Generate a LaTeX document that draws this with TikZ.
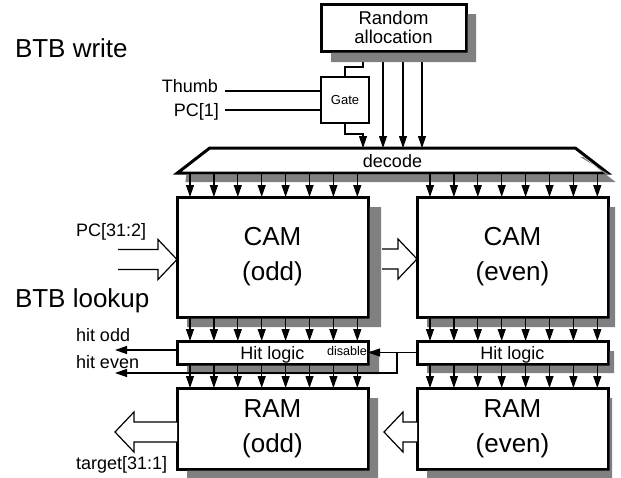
\documentclass[tikz,border=0pt]{standalone}
\usepackage{fontspec}
\setmainfont{Liberation Sans}
\usetikzlibrary{arrows.meta,calc,shapes.geometric}
\definecolor{shadowgrey}{RGB}{128,128,128}

% Hollow block arrow: #1 tip coordinate, #2 "-" for a right-pointing
% arrow or empty for a left-pointing one, #3 distance from tail to tip
\newcommand\fatarrowpath[3]{%
  \draw[fat] ($(#1)+(#2#3,-10)$) -- ($(#1)+(#2 19,-10)$) -- ($(#1)+(#2 19,-20)$)
    -- (#1) -- ($(#1)+(#2 19,20)$) -- ($(#1)+(#2 19,10)$) -- ($(#1)+(#2#3,10)$);}

% L-shaped drop shadow along the right and lower sides of block #1,
% reaching #2 to the right and #3 below its outline
\newcommand\boxshadow[3]{%
  \fill[shadowgrey] ($(#1.north east)+(1.5,10)$) -- ($(#1.north east)+(#2,10)$)
    -- ($(#1.south east)+(#2,#3)$) -- ($(#1.south west)+(10,#3)$)
    -- ($(#1.south west)+(10,1.5)$) -- ($(#1.south east)+(1.5,1.5)$) -- cycle;}

\begin{document}
\begin{tikzpicture}[x=1pt,y=-1pt,
  every node/.style={inner sep=0pt, outer sep=0pt},
  box/.style={draw, line width=3pt, fill=white},
  big/.style={font=\fontsize{26}{35}\selectfont, align=center},
  mid/.style={font=\fontsize{18}{20}\selectfont},
  small/.style={font=\fontsize{13}{15}\selectfont},
  tiny/.style={font=\fontsize{12.6}{14}\selectfont},
  wire/.style={line width=1.2pt},
  arr/.style={wire, -{Triangle[length=12pt,width=8pt]}},
  fat/.style={line width=1.2pt, fill=white, line join=miter}
]
\useasboundingbox (0,0) rectangle (621,477);

% ---- blocks ----
\node[box, minimum width=145pt, minimum height=47pt,
      font=\fontsize{18.5}{19.5}\selectfont, align=center] (ralloc) at (393.5,27.5) {Random\\allocation};
\node[draw, line width=1.2pt, fill=white, minimum width=48pt, minimum height=46pt, small] (gate) at (345,100) {Gate};
\node[trapezium, trapezium angle=68.2, trapezium stretches=true,
      minimum width=433pt, minimum height=25pt, draw, line width=3pt, fill=white,
      mid, text depth=0pt] (decode) at (392.5,160.5) {decode};

\node[box, minimum width=191pt, minimum height=120pt, big] (camodd) at (272.5,257) {CAM\\(odd)};
\node[box, minimum width=191pt, minimum height=120pt, big] (cameven) at (512.5,257) {CAM\\(even)};
\node[box, minimum width=191pt, minimum height=23pt, mid, text depth=0pt] (hitodd) at (272.5,352.5) {Hit logic};
\node[box, minimum width=191pt, minimum height=23pt, mid, text depth=0pt] (hiteven) at (512.5,352.5) {Hit logic};
\node[box, minimum width=191pt, minimum height=81pt, big] (ramodd) at (272.5,428.5) {RAM\\(odd)};
\node[box, minimum width=191pt, minimum height=81pt, big] (rameven) at (512.5,428.5) {RAM\\(even)};

\node[tiny, anchor=base east] (disable) at (367,355) {disable};

% ---- labels ----
\node[big, anchor=base west] (btbw) at (15,57) {BTB write};
\node[big, anchor=base west] (btbl) at (15,307) {BTB lookup};
\node[mid, anchor=base east] (thumb) at (218,92) {Thumb};
\node[mid, anchor=base east] (pcone) at (219,116) {PC[1]};
\node[mid, anchor=base west] (pcaddr) at (76,236) {PC[31:2]};
\node[mid, anchor=base west] (hoddlbl) at (76,341) {hit odd};
\node[mid, anchor=base west] (hevenlbl) at (76,368) {hit even};
\node[mid, anchor=base west] (tgtlbl) at (76,469) {target[31:1]};

% ---- allocation and gate wiring ----
\coordinate (ra1) at ($(ralloc.south west)+(42,0)$);
\coordinate (ra2) at ($(ralloc.south west)+(62,0)$);
\coordinate (ra3) at ($(ralloc.south west)+(82,0)$);
\coordinate (ra4) at ($(ralloc.south west)+(101,0)$);
\draw[wire] (ra1) -- ++(0,16) -| (gate.north);
\draw[arr] (gate.south) -- ++(0,11) -| (ra1 |- decode.north);
\foreach \c in {ra2,ra3,ra4} \draw[arr] (\c) -- (\c |- decode.north);

\coordinate (thumbin) at (225,91);
\coordinate (pcin) at (225,110);
\draw[wire] (thumbin) -- (thumbin -| gate.west);
\draw[wire] (pcin) -- (pcin -| gate.west);

% ---- wide data paths ----
\coordinate (pctip) at ($(camodd.west)+(0,2.5)$);
\fatarrowpath{pctip}{-}{59}
\coordinate (camtip) at ($(cameven.west)+(0,2)$);
\fatarrowpath{camtip}{-}{35}
\coordinate (ramtip) at ($(rameven.west)+(-33,3.5)$);
\fatarrowpath{ramtip}{}{33}
\coordinate (tgttip) at ($(ramodd.west)+(-62,3.5)$);
\fatarrowpath{tgttip}{}{62}

% ---- drop shadows ----
\boxshadow{ralloc}{10}{11}
\boxshadow{camodd}{13}{10}
\boxshadow{cameven}{7}{10}
\boxshadow{hitodd}{11}{10}
\boxshadow{hiteven}{6}{9}
\boxshadow{ramodd}{10}{10}
\boxshadow{rameven}{4}{10}
\fill[shadowgrey] ($(decode.bottom left corner)+(9,1.5)$) -- ($(decode.bottom left corner)+(8,9)$)
  -- ($(decode.bottom right corner)+(8,9)$) -- ($(decode.top right corner)+(8,9)$)
  -- ($(decode.top right corner)+(5,9)$) -- ($(decode.bottom right corner)+(1.6,1.5)$) -- cycle;

% ---- bus arrows between the stages ----
\foreach \k in {0,...,7} {
  \coordinate (o\k) at ($(camodd.north west)+({13+23.9*\k},0)$);
  \coordinate (e\k) at ($(cameven.north west)+({13+23.9*\k},0)$);
  \draw[arr] (o\k |- decode.south) -- (o\k);
  \draw[arr] (e\k |- decode.south) -- (e\k);
  \draw[arr] (o\k |- camodd.south) -- (o\k |- hitodd.north);
  \draw[arr] (e\k |- cameven.south) -- (e\k |- hiteven.north);
  \draw[arr] (o\k |- hitodd.south) -- (o\k |- ramodd.north);
  \draw[arr] (e\k |- hiteven.south) -- (e\k |- rameven.north);
}

% ---- hit outputs ----
\coordinate (hitoddout) at (115,350);
\draw[arr] (hitoddout -| hitodd.west) -- (hitoddout);
\coordinate (split) at ($(hiteven.west)+(-20,0)$);
\coordinate (hitevenout) at (115,373);
\draw[arr] (hiteven.west) -- (split) |- (hitevenout);
\draw[arr] (split) -- (hitodd.east);
\end{tikzpicture}
\end{document}
